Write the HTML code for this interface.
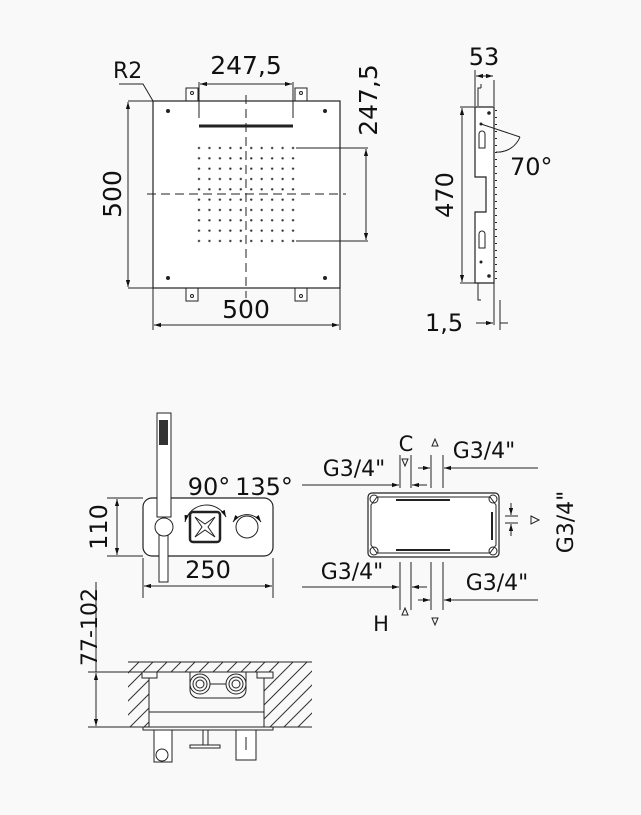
<!DOCTYPE html>
<html><head><meta charset="utf-8"><style>
html,body{margin:0;padding:0;background:#f9f9f9;}
svg{display:block;}
text{font-family:"DejaVu Sans","Liberation Sans",sans-serif;fill:#111;}
</style></head><body>
<svg width="641" height="815" viewBox="0 0 641 815" xmlns="http://www.w3.org/2000/svg">
<defs>
<marker id="a" viewBox="0 0 10 10" refX="10" refY="5" markerWidth="7" markerHeight="7" orient="auto-start-reverse"><path d="M0,2 L10,5 L0,8 z" fill="#111"/></marker>
<clipPath id="hc"><rect x="128" y="662" width="184" height="10"/><rect x="128" y="662" width="21" height="65"/><rect x="264" y="662" width="48" height="65"/></clipPath>
<pattern id="d" x="193.8" y="142.8" width="10.45" height="10.33" patternUnits="userSpaceOnUse"><circle cx="5.2" cy="5.2" r="1.2" fill="#333"/></pattern>
</defs>
<g stroke="#222" fill="none" stroke-width="1">
<rect x="186" y="88" width="12" height="13" fill="#fff"/><rect x="295" y="88" width="12" height="13" fill="#fff"/>
<rect x="186" y="288" width="12" height="13" fill="#fff"/><rect x="295" y="288" width="12" height="13" fill="#fff"/>
<rect x="153" y="101" width="187" height="187" fill="#fff" stroke-width="1.2"/>
<circle cx="192" cy="93" r="1.5"/><circle cx="301" cy="93" r="1.5"/><circle cx="192" cy="296" r="1.5"/><circle cx="301" cy="296" r="1.5"/>
<rect x="194" y="143" width="104" height="103" fill="url(#d)" stroke="none"/>
<line x1="199" y1="126" x2="293" y2="126" stroke-width="3"/>
<line x1="246" y1="95" x2="246" y2="298" stroke-dasharray="9,5"/>
<line x1="147" y1="194" x2="346" y2="194" stroke-dasharray="9,5"/>
<line x1="128" y1="101" x2="153" y2="101"/><line x1="128" y1="288" x2="153" y2="288"/>
<line x1="128" y1="102" x2="128" y2="287" marker-start="url(#a)" marker-end="url(#a)"/>
<line x1="153" y1="288" x2="153" y2="330"/><line x1="340" y1="288" x2="340" y2="330"/>
<line x1="154" y1="325" x2="339" y2="325" marker-start="url(#a)" marker-end="url(#a)"/>
<line x1="199" y1="82" x2="199" y2="118"/><line x1="293" y1="82" x2="293" y2="118"/>
<line x1="200" y1="84" x2="292" y2="84" marker-start="url(#a)" marker-end="url(#a)"/>
<line x1="296" y1="148" x2="368" y2="148"/><line x1="296" y1="241" x2="368" y2="241"/>
<line x1="366" y1="149" x2="366" y2="240" marker-start="url(#a)" marker-end="url(#a)"/>
<polyline points="119,84 143,84 153,101"/>
<polyline points="478,106 478,88 481,88"/><line x1="481" y1="88" x2="481" y2="84"/>
<line x1="494" y1="80" x2="494" y2="106"/>
<polyline points="478,283 478,300 481,300"/>
<path d="M475,107 L494,107 L494,283 L475,283 L475,212 L486,212 L486,177 L475,177 Z" fill="#fff" stroke-width="1.2"/>
<line x1="496" y1="110" x2="496" y2="283" stroke-dasharray="1,6" stroke-width="2"/>
<line x1="494" y1="283" x2="494" y2="325"/>
<line x1="475" y1="70" x2="475" y2="106"/>
<line x1="476" y1="76" x2="493" y2="76" marker-start="url(#a)" marker-end="url(#a)"/>
<line x1="460" y1="107" x2="475" y2="107"/><line x1="460" y1="283" x2="475" y2="283"/>
<line x1="462" y1="108" x2="462" y2="282" marker-start="url(#a)" marker-end="url(#a)"/>
<line x1="476" y1="323" x2="493" y2="323" marker-end="url(#a)"/>
<line x1="500" y1="323" x2="508" y2="323"/><line x1="500" y1="300" x2="500" y2="330"/>
<line x1="481" y1="124" x2="520" y2="137"/><path d="M520,137 A24,24 0 0 1 496,152"/>
<path d="M479,140 v-6 a3,3 0 0 1 6,0 v14 h-6 z"/><path d="M479,240 v-6 a3,3 0 0 1 6,0 v14 h-6 z"/>
<rect x="143" y="498" width="130" height="58" rx="9" fill="#fff" stroke-width="1.2"/>
<rect x="157" y="413" width="14" height="104" fill="#fff"/>
<rect x="159" y="420" width="9" height="25" fill="#333" stroke="none"/>
<rect x="159" y="535" width="9" height="47" fill="#fff"/>
<circle cx="164" cy="527" r="9" fill="#fff"/>
<rect x="190" y="512" width="30" height="30" rx="3" fill="#fff" stroke-width="2.5"/>
<path d="M195,517 L205,524 L215,517 L208,527 L215,537 L205,530 L195,537 L202,527 Z"/>
<circle cx="247" cy="527" r="11" fill="#fff"/>
<path d="M185,522 A22,22 0 0 1 226,517" marker-start="url(#a)" marker-end="url(#a)"/><path d="M233,522 A17,17 0 0 1 261,522" marker-start="url(#a)" marker-end="url(#a)"/>
<line x1="107" y1="498" x2="143" y2="498"/><line x1="107" y1="556" x2="143" y2="556"/>
<line x1="117" y1="499" x2="117" y2="555" marker-start="url(#a)" marker-end="url(#a)"/>
<line x1="143" y1="558" x2="143" y2="598"/><line x1="273" y1="558" x2="273" y2="598"/>
<line x1="144" y1="586" x2="272" y2="586" marker-start="url(#a)" marker-end="url(#a)"/>
<g clip-path="url(#hc)" stroke="#333">
<path d="M60,727 l65,-65 M74,727 l65,-65 M88,727 l65,-65 M102,727 l65,-65 M116,727 l65,-65 M130,727 l65,-65 M144,727 l65,-65 M158,727 l65,-65 M172,727 l65,-65 M186,727 l65,-65 M200,727 l65,-65 M214,727 l65,-65 M228,727 l65,-65 M242,727 l65,-65 M256,727 l65,-65 M270,727 l65,-65 M284,727 l65,-65 M298,727 l65,-65"/>
</g>
<line x1="128" y1="662" x2="312" y2="662"/><line x1="128" y1="727" x2="312" y2="727"/>
<rect x="149" y="672" width="115" height="55" fill="#f9f9f9"/>
<line x1="149" y1="712" x2="264" y2="712"/>
<rect x="142" y="672" width="15" height="6" fill="#f9f9f9"/><rect x="257" y="672" width="16" height="6" fill="#f9f9f9"/>
<rect x="143" y="727" width="130" height="3" fill="#f9f9f9"/>
<path d="M190,672 v18 a8,8 0 0 0 8,8 h40 a8,8 0 0 0 8,-8 v-18"/>
<circle cx="200" cy="684" r="10"/><circle cx="200" cy="684" r="7"/><circle cx="200" cy="684" r="4"/>
<circle cx="236" cy="684" r="10"/><circle cx="236" cy="684" r="7"/><circle cx="236" cy="684" r="4"/>
<line x1="210" y1="684" x2="226" y2="684"/>
<rect x="154" y="730" width="18" height="32" fill="#fff"/><circle cx="162" cy="755" r="6" fill="#fff"/>
<rect x="203" y="730" width="5" height="15"/><rect x="190" y="745" width="30" height="3" fill="#fff"/>
<rect x="236" y="730" width="20" height="30" fill="#fff"/><line x1="246" y1="737" x2="246" y2="750"/>
<line x1="88" y1="672" x2="149" y2="672"/><line x1="88" y1="727" x2="128" y2="727"/>
<line x1="96" y1="673" x2="96" y2="726" marker-start="url(#a)" marker-end="url(#a)"/>
<line x1="96" y1="582" x2="96" y2="672"/>
<rect x="368" y="493" width="131" height="64" rx="4" fill="#fff" stroke-width="1.2"/>
<polyline points="377,497 490,497 496,505 496,545 490,553 377,553 371,545 371,505 377,497"/>
<line x1="396" y1="500" x2="450" y2="500" stroke-width="2"/><line x1="396" y1="550" x2="450" y2="550" stroke-width="2"/>
<line x1="492" y1="512" x2="492" y2="540" stroke-width="2"/>
<circle cx="374" cy="499" r="4"/><circle cx="493" cy="499" r="4"/><circle cx="374" cy="551" r="4"/><circle cx="493" cy="551" r="4"/>
<line x1="400" y1="455" x2="400" y2="488"/><line x1="411" y1="455" x2="411" y2="488"/>
<line x1="431" y1="455" x2="431" y2="488"/><line x1="443" y1="455" x2="443" y2="488"/>
<line x1="400" y1="562" x2="400" y2="610"/><line x1="411" y1="562" x2="411" y2="610"/>
<line x1="431" y1="562" x2="431" y2="610"/><line x1="443" y1="562" x2="443" y2="610"/>
<line x1="302" y1="485" x2="399" y2="485" marker-end="url(#a)"/><line x1="427" y1="485" x2="412" y2="485" marker-end="url(#a)"/>
<line x1="538" y1="468" x2="444" y2="468" marker-end="url(#a)"/><line x1="418" y1="468" x2="430" y2="468" marker-end="url(#a)"/>
<line x1="302" y1="587" x2="399" y2="587" marker-end="url(#a)"/><line x1="427" y1="587" x2="412" y2="587" marker-end="url(#a)"/>
<line x1="538" y1="600" x2="444" y2="600" marker-end="url(#a)"/><line x1="418" y1="600" x2="430" y2="600" marker-end="url(#a)"/>
<line x1="505" y1="516" x2="518" y2="516"/><line x1="505" y1="523" x2="518" y2="523"/>
<line x1="511" y1="503" x2="511" y2="515" marker-end="url(#a)"/><line x1="511" y1="536" x2="511" y2="524" marker-end="url(#a)"/>
<path d="M531,516 L539,520 L531,524 Z"/>
<path d="M432,446 L438,446 L435,439 Z"/><path d="M402,459 L408,459 L405,466 Z"/>
<path d="M402,615 L408,615 L405,608 Z"/><path d="M432,618 L438,618 L435,625 Z"/>
</g>
<g font-size="24">
<text x="113" y="78" font-size="22">R2</text>
<text x="246" y="74" text-anchor="middle" font-size="25">247,5</text>
<text x="246" y="318" text-anchor="middle" font-size="25">500</text>
<text transform="translate(121,194) rotate(-90)" text-anchor="middle" font-size="25">500</text>
<text transform="translate(377,100) rotate(-90)" text-anchor="middle" font-size="25">247,5</text>
<text x="484" y="65" text-anchor="middle">53</text>
<text x="510" y="175">70°</text>
<text transform="translate(453,195) rotate(-90)" text-anchor="middle">470</text>
<text x="425" y="331">1,5</text>
<text x="209" y="495" text-anchor="middle">90°</text>
<text x="264" y="495" text-anchor="middle">135°</text>
<text x="208" y="578" text-anchor="middle">250</text>
<text transform="translate(107,527) rotate(-90)" text-anchor="middle">110</text>
<text transform="translate(97,627) rotate(-90)" text-anchor="middle" font-size="22">77-102</text>
<text x="406" y="451" text-anchor="middle" font-size="21">C</text>
<text x="354" y="476" text-anchor="middle" font-size="22">G3/4"</text>
<text x="484" y="458" text-anchor="middle" font-size="22">G3/4"</text>
<text x="352" y="579" text-anchor="middle" font-size="22">G3/4"</text>
<text x="497" y="590" text-anchor="middle" font-size="22">G3/4"</text>
<text x="381" y="631" text-anchor="middle" font-size="21">H</text>
<text transform="translate(573,522) rotate(-90)" text-anchor="middle" font-size="22">G3/4"</text>
</g>
<g fill="#222">
<circle cx="168" cy="111" r="2"/><circle cx="325" cy="111" r="2"/><circle cx="168" cy="278" r="2"/><circle cx="325" cy="278" r="2"/>
<circle cx="489" cy="113" r="1.8"/><circle cx="481" cy="124" r="1.5"/><circle cx="481" cy="262" r="1.5"/><circle cx="489" cy="276" r="1.8"/>
</g>
</svg>
</body></html>
